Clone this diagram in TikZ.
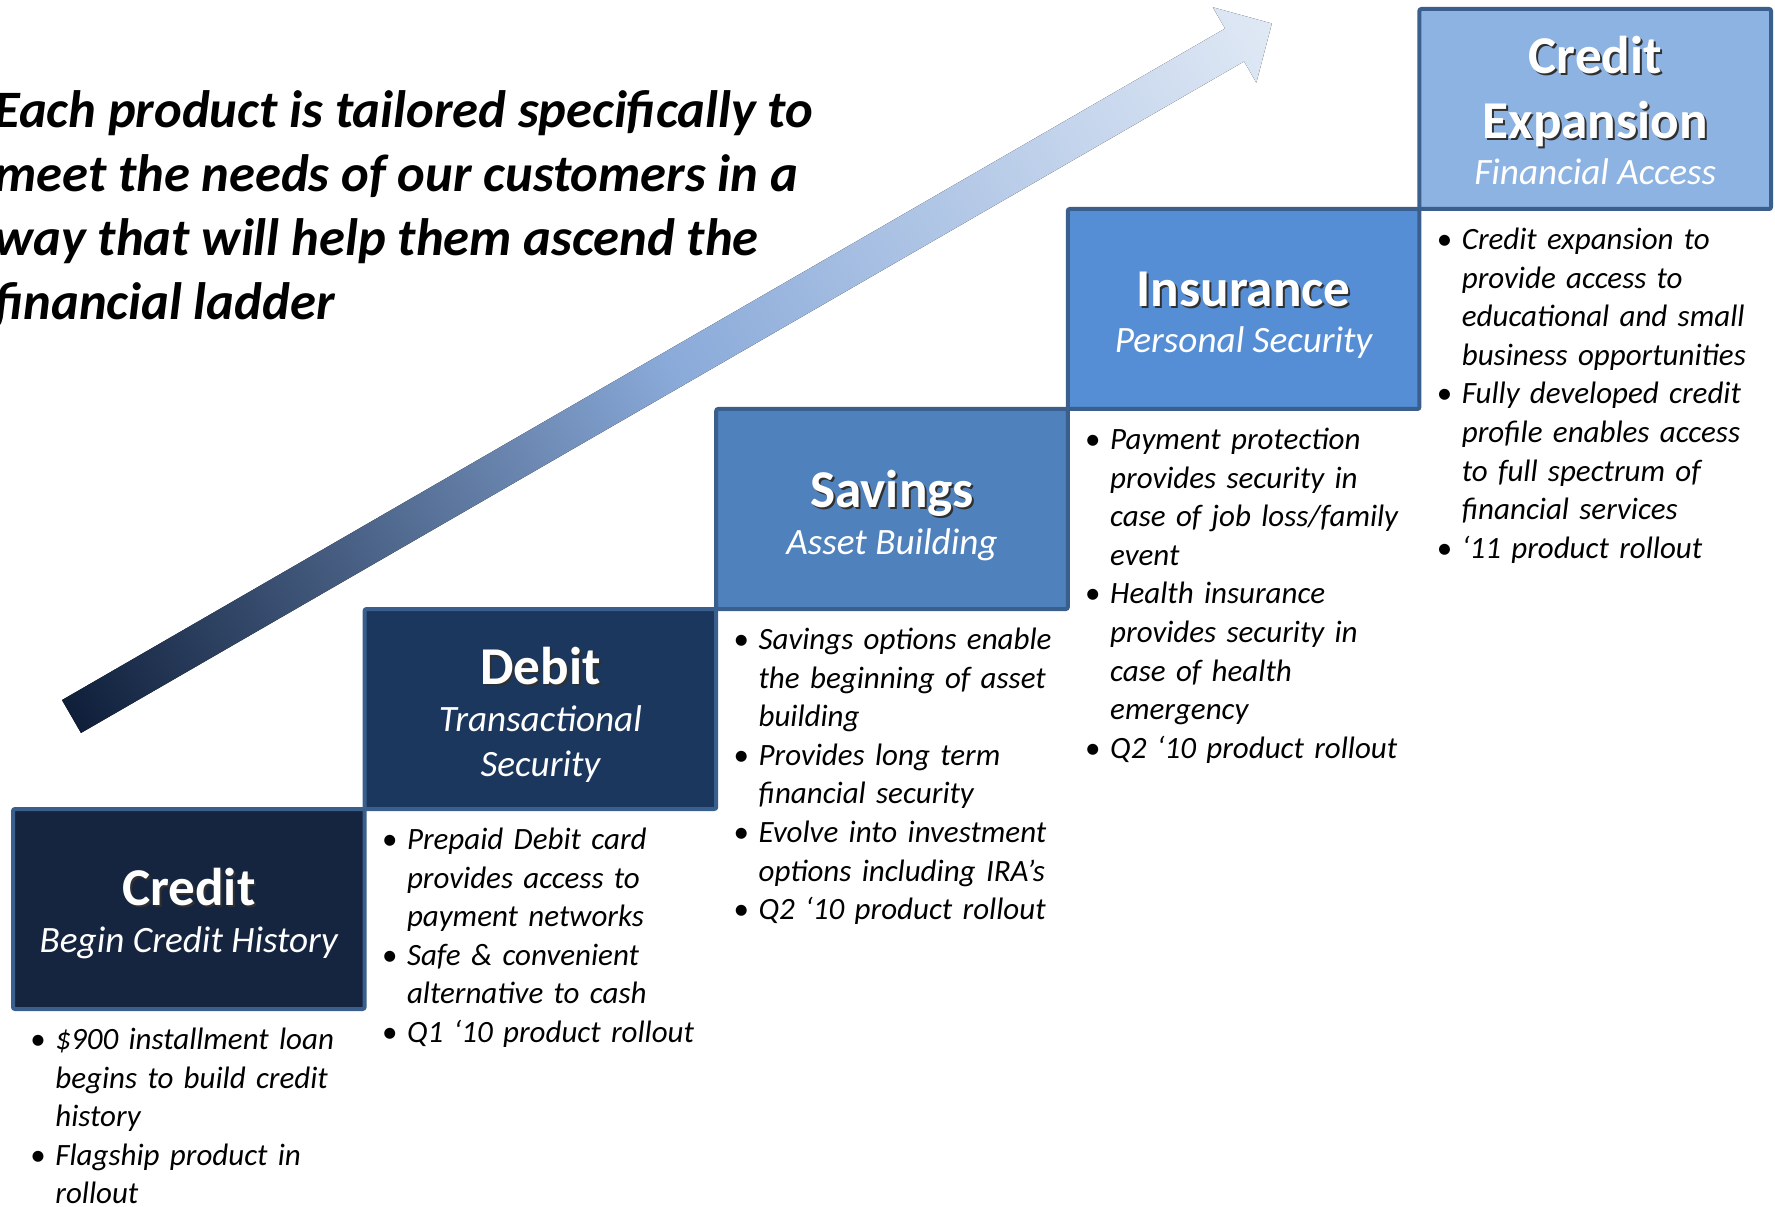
\documentclass[tikz,border=0pt]{standalone}
\usepackage{fontspec}
\setmainfont{Carlito}
\usetikzlibrary{positioning,calc}

\definecolor{stepline}{HTML}{3A5F8C}
\definecolor{creditfill}{HTML}{15253F}
\definecolor{debitfill}{HTML}{1B375E}
\definecolor{savingsfill}{HTML}{4F81BD}
\definecolor{insurefill}{HTML}{558ED5}
\definecolor{expandfill}{HTML}{8DB3E2}
\definecolor{arrowdark}{HTML}{0F1F3A}
\definecolor{arrowmid}{HTML}{8AAAD9}
\definecolor{arrowlight}{HTML}{E0E9F5}
\definecolor{titleshadow}{HTML}{303030}

\newlength{\bulletwd}
\setlength{\bulletwd}{11pt}

% bold white step title with a small drop shadow
\newcommand{\steptitle}[1]{{\fontsize{26.6}{31.5}\selectfont\bfseries\leavevmode
  \rlap{\kern1pt\raisebox{-1pt}{\textcolor{titleshadow}{#1}}}#1}}
% italic line under the title
\newcommand{\stepsub}[1]{{\fontsize{18.6}{22.6}\selectfont\itshape #1}}
% one bullet point, wrapped lines hang under the text
\newcommand{\bitem}[1]{\noindent\hangindent=\bulletwd\hangafter=1
  \makebox[\bulletwd][l]{\kern-1.5pt\upshape\textbullet}{\let\\\newline #1}\par}

\tikzset{
  stepbox/.style={
    draw=stepline,
    line width=2pt,
    rounded corners=1pt,
    minimum width=175.8pt,
    minimum height=100pt,
    inner sep=0pt,
    outer sep=0pt,
    text=white,
    align=center,
    font=\fontsize{18.6}{22.6}\selectfont,
    text depth=0pt,
    text height=44pt,
    anchor=south west
  },
  notelist/.style={
    text width=180pt,
    align=left,
    inner sep=0pt,
    font=\fontsize{15.5}{19.3}\selectfont\itshape
  },
  motto/.style={
    align=left,
    inner sep=0pt,
    font=\fontsize{26.3}{32}\selectfont\bfseries\itshape
  }
}

\begin{document}
\begin{tikzpicture}[x=0.5pt,y=0.5pt]
  \useasboundingbox (0,0) rectangle (1775,1206);
  \clip (0,0) rectangle (1775,1206);

  % rising arrow behind everything
  \coordinate (tail) at (71.5,489.5);
  \begin{scope}[transform canvas={rotate around={30:(tail)}}]
    \fill[left color=arrowdark, right color=arrowlight, middle color=arrowmid]
      ($(tail)+(0,-19)$) -- ($(tail)+(1343,-19)$) -- ($(tail)+(1343,-43.5)$)
      -- ($(tail)+(1386,0)$) -- ($(tail)+(1343,43.5)$) -- ($(tail)+(1343,19)$)
      -- ($(tail)+(0,19)$) -- cycle;
  \end{scope}

  \node[motto, anchor=north west] (motto) at (-6,1115.5)
    {Each product is tailored specifically to\\meet the needs of our customers in a\\way that will help them ascend the\\financial ladder};

  % the five steps
  \node[stepbox, fill=creditfill, text height=43pt] (credit) at (13,197)
    {\steptitle{Credit}\\[0.8pt]\stepsub{Begin Credit History}};
  \node[stepbox, fill=debitfill, text height=67.7pt] (debit) at (credit.north east)
    {\steptitle{Debit}\\[0.8pt]\stepsub{Transactional}\\\stepsub{Security}};
  \node[stepbox, fill=savingsfill, text height=45pt] (savings) at (debit.north east)
    {\steptitle{Savings}\\[0.8pt]\stepsub{Asset Building}};
  \node[stepbox, fill=insurefill] (insurance) at (savings.north east)
    {\steptitle{Insurance}\\[0.8pt]\stepsub{Personal Security}};
  \node[stepbox, fill=expandfill, text height=76pt] (expansion) at (insurance.north east)
    {\steptitle{Credit}\\[9.5pt]\steptitle{Expansion}\\[0.8pt]\stepsub{Financial Access}};

  % bullet notes under each step
  \node[notelist, below right=9.3pt and 10pt of credit.south west] (credit-notes) {%
    \bitem{\$900 installment loan\\begins to build credit\\history}
    \bitem{Flagship product in\\rollout}};
  \node[notelist, below right=9.3pt and 10pt of debit.south west] (debit-notes) {%
    \bitem{Prepaid Debit card\\provides access to\\payment networks}
    \bitem{Safe \& convenient\\alternative to cash}
    \bitem{Q1 ‘10 product rollout}};
  \node[notelist, below right=9.3pt and 10pt of savings.south west] (savings-notes) {%
    \bitem{Savings options enable\\the beginning of asset\\building}
    \bitem{Provides long term\\financial security}
    \bitem{Evolve into investment\\options including IRA’s}
    \bitem{Q2 ‘10 product rollout}};
  \node[notelist, below right=9.3pt and 10pt of insurance.south west] (insurance-notes) {%
    \bitem{Payment protection\\provides security in\\case of job loss/family\\event}
    \bitem{Health insurance\\provides security in\\case of health\\emergency}
    \bitem{Q2 ‘10 product rollout}};
  \node[notelist, below right=9.3pt and 10pt of expansion.south west] (expansion-notes) {%
    \bitem{Credit expansion to\\provide access to\\educational and small\\business opportunities}
    \bitem{Fully developed credit\\profile enables access\\to full spectrum of\\financial services}
    \bitem{‘11 product rollout}};
\end{tikzpicture}
\end{document}
